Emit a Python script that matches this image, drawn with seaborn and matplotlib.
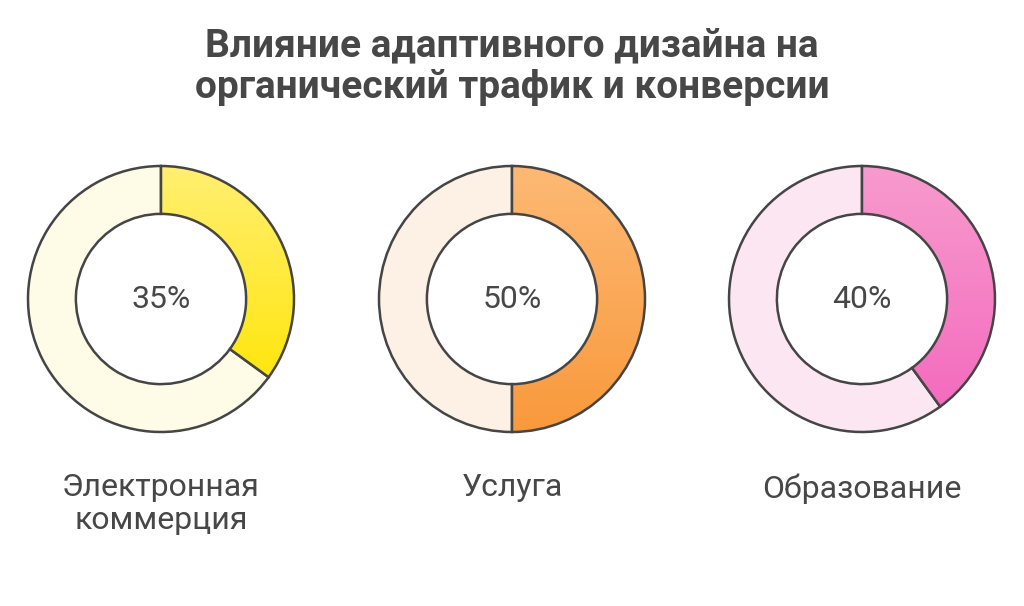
import matplotlib
matplotlib.use("Agg")

import matplotlib.pyplot as plt
import seaborn as sns
import numpy as np

# data
categories = ["Электронная\nкоммерция", "Услуга", "Образование"]
shares = [35, 50, 40]
grad_top = ["#FFEF72", "#FDB974", "#F79BCE"]
grad_bottom = ["#FFE60E", "#F9993C", "#F46BBE"]
rest_colors = ["#FEFBE7", "#FDF0E4", "#FCE6F2"]
title = "Влияние адаптивного дизайна на\nорганический трафик и конверсии"

W, H = 1024, 606
CENTERS_X = [161, 512, 862]
CENTER_Y = 299
R = 133
PAD = 1.06
TEXT = "#474747"

sns.set_theme(style="white")
plt.rcParams["font.family"] = ["Roboto", "DejaVu Sans"]

fig = plt.figure(figsize=(W / 100, H / 100), dpi=100)
fig.patch.set_facecolor("white")

fig.text(0.5, 1 - 27 / H, title, ha="center", va="top", fontsize=28,
         fontweight="bold", color=TEXT, linespacing=1.18)

for cx, cat, val, top, bot, rest in zip(CENTERS_X, categories, shares,
                                         grad_top, grad_bottom, rest_colors):
    box = R * PAD
    ax = fig.add_axes([(cx - box) / W, (H - CENTER_Y - box) / H,
                       2 * box / W, 2 * box / H])
    wedges, _ = ax.pie([val, 100 - val], colors=["none", rest], startangle=90,
                       counterclock=False, radius=1,
                       wedgeprops=dict(width=0.36, edgecolor="#454545",
                                       linewidth=1.8))
    w = wedges[0]
    w.set_zorder(3)
    ext = w.get_path().get_extents()
    cmap = sns.blend_palette([top, bot], n_colors=256, as_cmap=True)
    grad = np.linspace(0, 1, 256).reshape(-1, 1)
    im = ax.imshow(grad, cmap=cmap, aspect="auto", origin="upper",
                   extent=(ext.x0, ext.x1, ext.y0, ext.y1), zorder=2)
    im.set_clip_path(w)
    ax.set_xlim(-PAD, PAD)
    ax.set_ylim(-PAD, PAD)
    ax.set_aspect("equal")
    ax.axis("off")
    ax.text(0, 0, f"{val}%", ha="center", va="center", fontsize=23,
            color=TEXT)

    fig.text(cx / W, 1 - 473 / H, cat, ha="center", va="top", fontsize=23,
             color=TEXT, linespacing=1.17)

fig.savefig("out.png", dpi=100, facecolor="white")
